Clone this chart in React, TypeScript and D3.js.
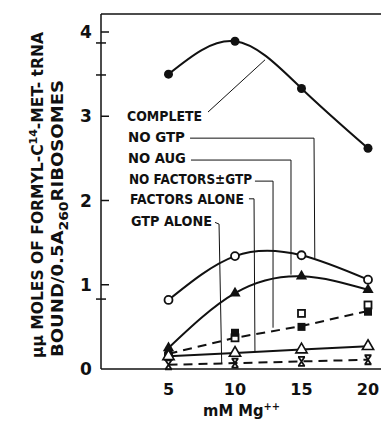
import React from 'react';
import * as d3 from 'd3';

// Mg++ concentrations (mM)
const mg = [5, 10, 15, 20];

// uu moles formyl-C14-met-tRNA bound / 0.5 A260 ribosomes
const complete = [3.5, 3.89, 3.33, 2.62];
const noGtp = [0.82, 1.34, 1.35, 1.06];
const noAug = [0.25, 0.9, 1.1, 0.94];
const noFactors = [0.18, 0.43, 0.5, 0.68];
const noFactorsGtp = [0.15, 0.37, 0.66, 0.76];
const noFactorsLine = [0.18, 0.37, 0.51, 0.69];
const factorsAlone = [0.15, 0.19, 0.23, 0.27];
const gtpAlone = [0.05, 0.07, 0.09, 0.11];

const yTicks = [0, 1, 2, 3, 4];
const yBreaks = [3.87, 3.49, 0.83];
const xTicks = [5, 10, 15, 20];

// legend labels, with leader lines in data units
const labels = ['COMPLETE', 'NO GTP', 'NO AUG', 'NO FACTORS\u00B1GTP', 'FACTORS ALONE', 'GTP ALONE'];
const labelX = [1.88, 1.95, 1.95, 2.03, 2.1, 2.18];
const labelY = [2.94, 2.69, 2.44, 2.2, 1.96, 1.7];
const labelW = [75, 57, 58, 123, 114, 81];
const leaders: [number, number][][] = [
  [[7.97, 3.05], [12.26, 3.67]],
  [[6.62, 2.74], [15.94, 2.74], [16.0, 1.31]],
  [[6.69, 2.48], [14.21, 2.48], [14.21, 1.12]],
  [[11.5, 2.23], [12.86, 2.23], [12.86, 0.49]],
  [[11.05, 2.02], [11.43, 2.02], [11.5, 0.21]],
  [[8.5, 1.74], [8.8, 1.72], [9.0, 0.07]],
];

const W = 381;
const H = 421;
const FONT = "'DejaVu Sans', sans-serif";

export default function App() {
  const x = d3.scaleLinear().domain([0, 20]).range([102, 368]);
  const y = d3.scaleLinear().domain([0, 4]).range([369, 32]);

  const smooth = d3.line<number>().x((_, i) => x(mg[i])).y(d => y(d)).curve(d3.curveNatural);
  const straight = d3.line<number>().x((_, i) => x(mg[i])).y(d => y(d));
  const leader = d3.line<[number, number]>().x(d => x(d[0])).y(d => y(d[1]));

  const tri = d3.symbol().type(d3.symbolTriangle).size(55)() as string;
  const xMark = 'M-3.5,-4.5H3.5M-3.5,4.5H3.5M-3,-4.5L3,4.5M3,-4.5L-3,4.5';

  const pts = (arr: number[]) => arr.map((v, i) => [x(mg[i]), y(v)] as [number, number]);

  return (
    <div style={{ position: 'absolute', left: 0, top: 0 }}>
      <svg width={W} height={H} style={{ display: 'block', background: '#fff' }}>
        {/* frame */}
        <g stroke="#111" strokeWidth={1.5} fill="none">
          <line x1={101} y1={14} x2={W} y2={14} />
          <line x1={101} y1={14} x2={101} y2={y(0)} />
          <line x1={101} y1={y(0)} x2={W} y2={y(0)} />
          {yTicks.slice(1).map(t => (
            <line key={t} x1={101} x2={109} y1={y(t)} y2={y(t)} />
          ))}
          {yBreaks.map(t => (
            <line key={t} x1={96} x2={106} y1={y(t)} y2={y(t)} />
          ))}
        </g>

        {/* y tick labels */}
        {yTicks.map(t => (
          <text key={t} x={86} y={y(t) + 6} textAnchor="middle" fontFamily={FONT}
            fontWeight="bold" fontSize={17} fill="#111">{t}</text>
        ))}

        {/* x tick labels */}
        {xTicks.map(t => (
          <text key={t} x={x(t)} y={395} textAnchor="middle" fontFamily={FONT}
            fontWeight="bold" fontSize={16} fill="#111">{t}</text>
        ))}
        <text x={203} y={416} fontFamily={FONT} fontWeight="bold" fontSize={15} fill="#111"
          textLength={77} lengthAdjust="spacingAndGlyphs">
          mM  Mg<tspan dy={-6} fontSize={10}>++</tspan>
        </text>

        {/* y axis title */}
        <text transform="translate(43,358) rotate(-90)" fontFamily={FONT} fontWeight="bold"
          fontSize={15.5} fill="#111" textLength={326} lengthAdjust="spacingAndGlyphs">
          {'\u03BC\u03BC MOLES OF FORMYL-C'}<tspan dy={-6} fontSize={11}>14</tspan>
          <tspan dy={6}>-MET- tRNA</tspan>
        </text>
        <text transform="translate(63,357) rotate(-90)" fontFamily={FONT} fontWeight="bold"
          fontSize={15.5} fill="#111" textLength={277} lengthAdjust="spacingAndGlyphs">
          BOUND/0.5A<tspan dy={5} fontSize={12}>260</tspan>
          <tspan dy={-5}>RIBOSOMES</tspan>
        </text>

        {/* leader lines */}
        <g stroke="#111" strokeWidth={1} fill="none">
          {leaders.map((l, i) => <path key={i} d={leader(l) as string} />)}
        </g>
        {labels.map((l, i) => (
          <text key={l} x={x(labelX[i])} y={y(labelY[i])} fontFamily={FONT} fontWeight="bold"
            fontSize={14} fill="#111" textLength={labelW[i]} lengthAdjust="spacingAndGlyphs">{l}</text>
        ))}

        {/* curves */}
        <g fill="none" stroke="#111" strokeWidth={2}>
          <path d={smooth(complete) as string} />
          <path d={smooth(noGtp) as string} />
          <path d={smooth(noAug) as string} />
          <path d={straight(factorsAlone) as string} />
          <path d={straight(noFactorsLine) as string} strokeDasharray="9,6" />
          <path d={straight(gtpAlone) as string} strokeDasharray="9,6" />
        </g>

        {/* markers */}
        {pts(complete).map(([px, py], i) => (
          <circle key={'c' + i} cx={px} cy={py} r={4.5} fill="#111" />
        ))}
        {pts(noGtp).map(([px, py], i) => (
          <circle key={'g' + i} cx={px} cy={py} r={4} fill="#fff" stroke="#111" strokeWidth={1.8} />
        ))}
        {pts(noAug).map(([px, py], i) => (
          <path key={'a' + i} d={tri} transform={`translate(${px},${py})`} fill="#111" />
        ))}
        {pts(noFactorsGtp).map(([px, py], i) => (
          <rect key={'o' + i} x={px - 3.5} y={py - 3.5} width={7} height={7} fill="#fff"
            stroke="#111" strokeWidth={1.8} />
        ))}
        {pts(noFactors).map(([px, py], i) => (
          <rect key={'f' + i} x={px - 4} y={py - 4} width={8} height={8} fill="#111" />
        ))}
        {pts(factorsAlone).map(([px, py], i) => (
          <path key={'t' + i} d={tri} transform={`translate(${px},${py})`} fill="#fff"
            stroke="#111" strokeWidth={1.6} />
        ))}
        {pts(gtpAlone).map(([px, py], i) => (
          <path key={'x' + i} d={xMark} transform={`translate(${px},${py})`} fill="none"
            stroke="#111" strokeWidth={1.8} />
        ))}
      </svg>
    </div>
  );
}
